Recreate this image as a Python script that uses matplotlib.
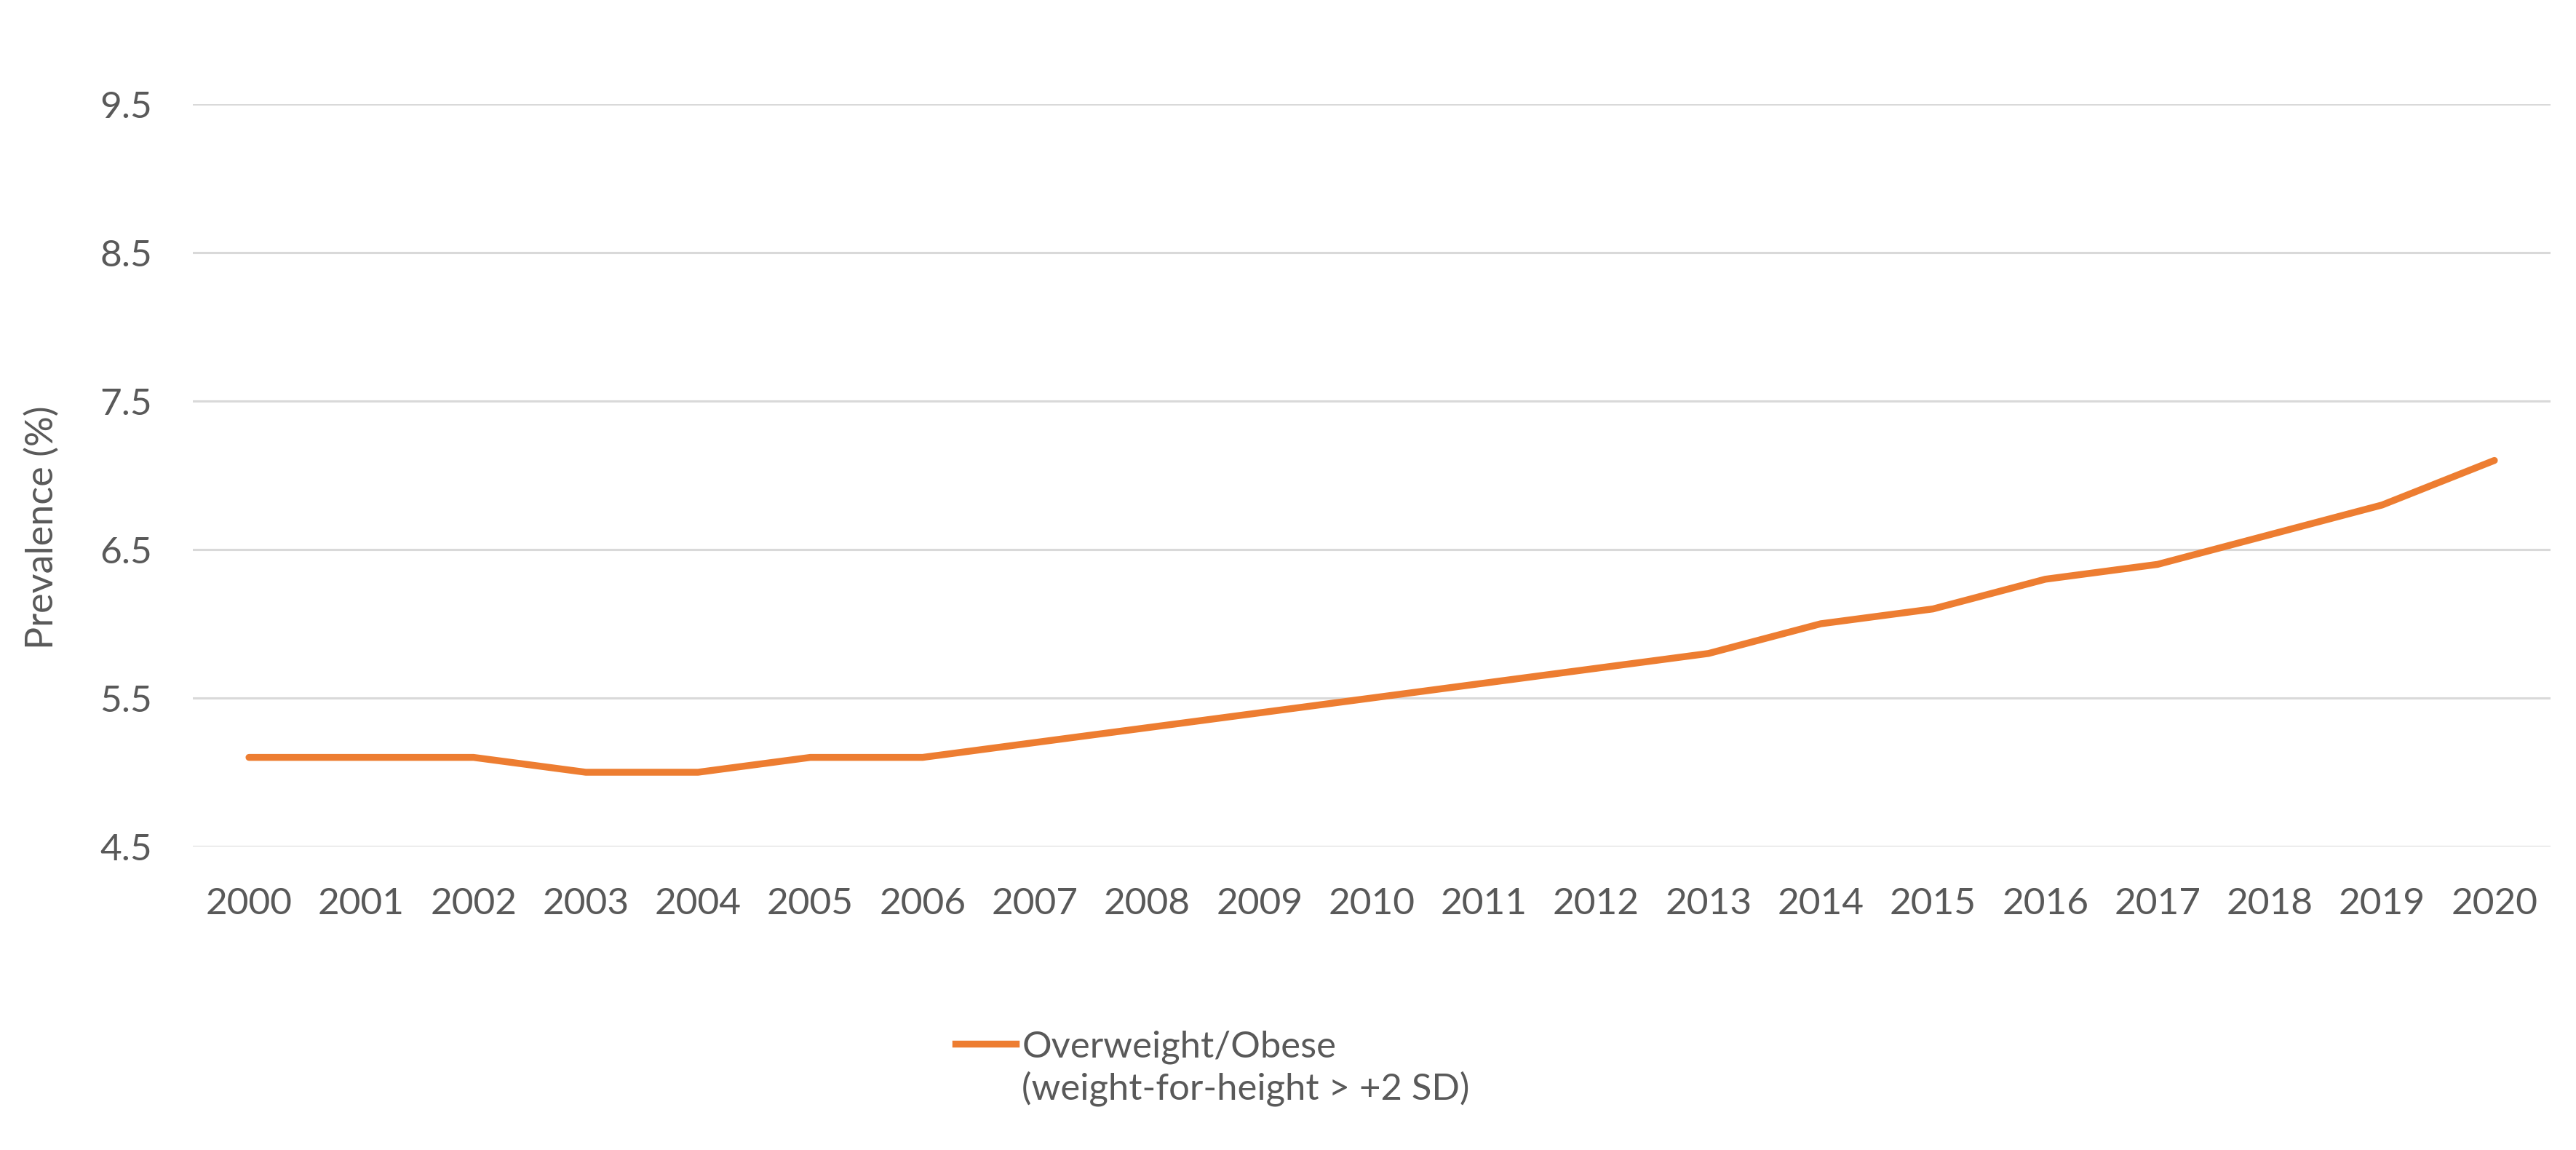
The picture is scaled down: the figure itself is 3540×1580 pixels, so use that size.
import matplotlib
matplotlib.use("Agg")
import matplotlib.pyplot as plt
from matplotlib.lines import Line2D

plt.rcParams['font.family'] = ['Lato', 'DejaVu Sans']

years = ['2000', '2001', '2002', '2003', '2004', '2005', '2006', '2007', '2008', '2009', '2010',
         '2011', '2012', '2013', '2014', '2015', '2016', '2017', '2018', '2019', '2020']
prevalence = [5.1, 5.1, 5.1, 5.0, 5.0, 5.1, 5.1, 5.2, 5.3, 5.4, 5.5,
              5.6, 5.7, 5.8, 6.0, 6.1, 6.3, 6.4, 6.6, 6.8, 7.1]
y_ticks = [4.5, 5.5, 6.5, 7.5, 8.5, 9.5]
series_label = 'Overweight/Obese'
series_note = '(weight-for-height > +2 SD)'

orange = '#ED7D31'
grey_txt = '#595959'
grid_col = '#D9D9D9'

fig = plt.figure(figsize=(35.4, 15.8), dpi=100)
ax = fig.add_axes([265 / 3540, 417 / 1580, 3240 / 3540, 1020 / 1580])

x = list(range(len(years)))
ax.plot(x, prevalence, color=orange, lw=6.8, solid_capstyle='round', solid_joinstyle='round', zorder=3)

ax.set_xlim(-0.5, len(years) - 0.5)
ax.set_ylim(4.5, 9.5)
ax.set_yticks(y_ticks)
ax.set_yticklabels([f'{v:.1f}' for v in y_ticks])
ax.set_xticks(x)
ax.set_xticklabels(years)
ax.grid(axis='y', color=grid_col, lw=2.2)
ax.set_axisbelow(True)
for s in ax.spines.values():
    s.set_visible(False)
ax.tick_params(length=0, labelsize=37, colors=grey_txt)
ax.tick_params(axis='y', pad=40)
ax.tick_params(axis='x', pad=40)

ax.set_ylabel('Prevalence (%)', fontsize=37.5, color=grey_txt)
ax.yaxis.set_label_coords(-0.0565, 0.43)

# second legend row is just the note, no handle
handles = [Line2D([], [], color=orange, lw=6.8),
           Line2D([], [], color='none', lw=0)]
leg = fig.legend(handles, [series_label, series_note], loc='upper left',
                 bbox_to_anchor=(1313 / 3540, 1 - 1415 / 1580), frameon=False,
                 fontsize=36.5, labelcolor=grey_txt, handlelength=1.64, handletextpad=0.16,
                 borderpad=0, borderaxespad=0, labelspacing=0.2)

fig.savefig('out.png', dpi=100, facecolor='white')
